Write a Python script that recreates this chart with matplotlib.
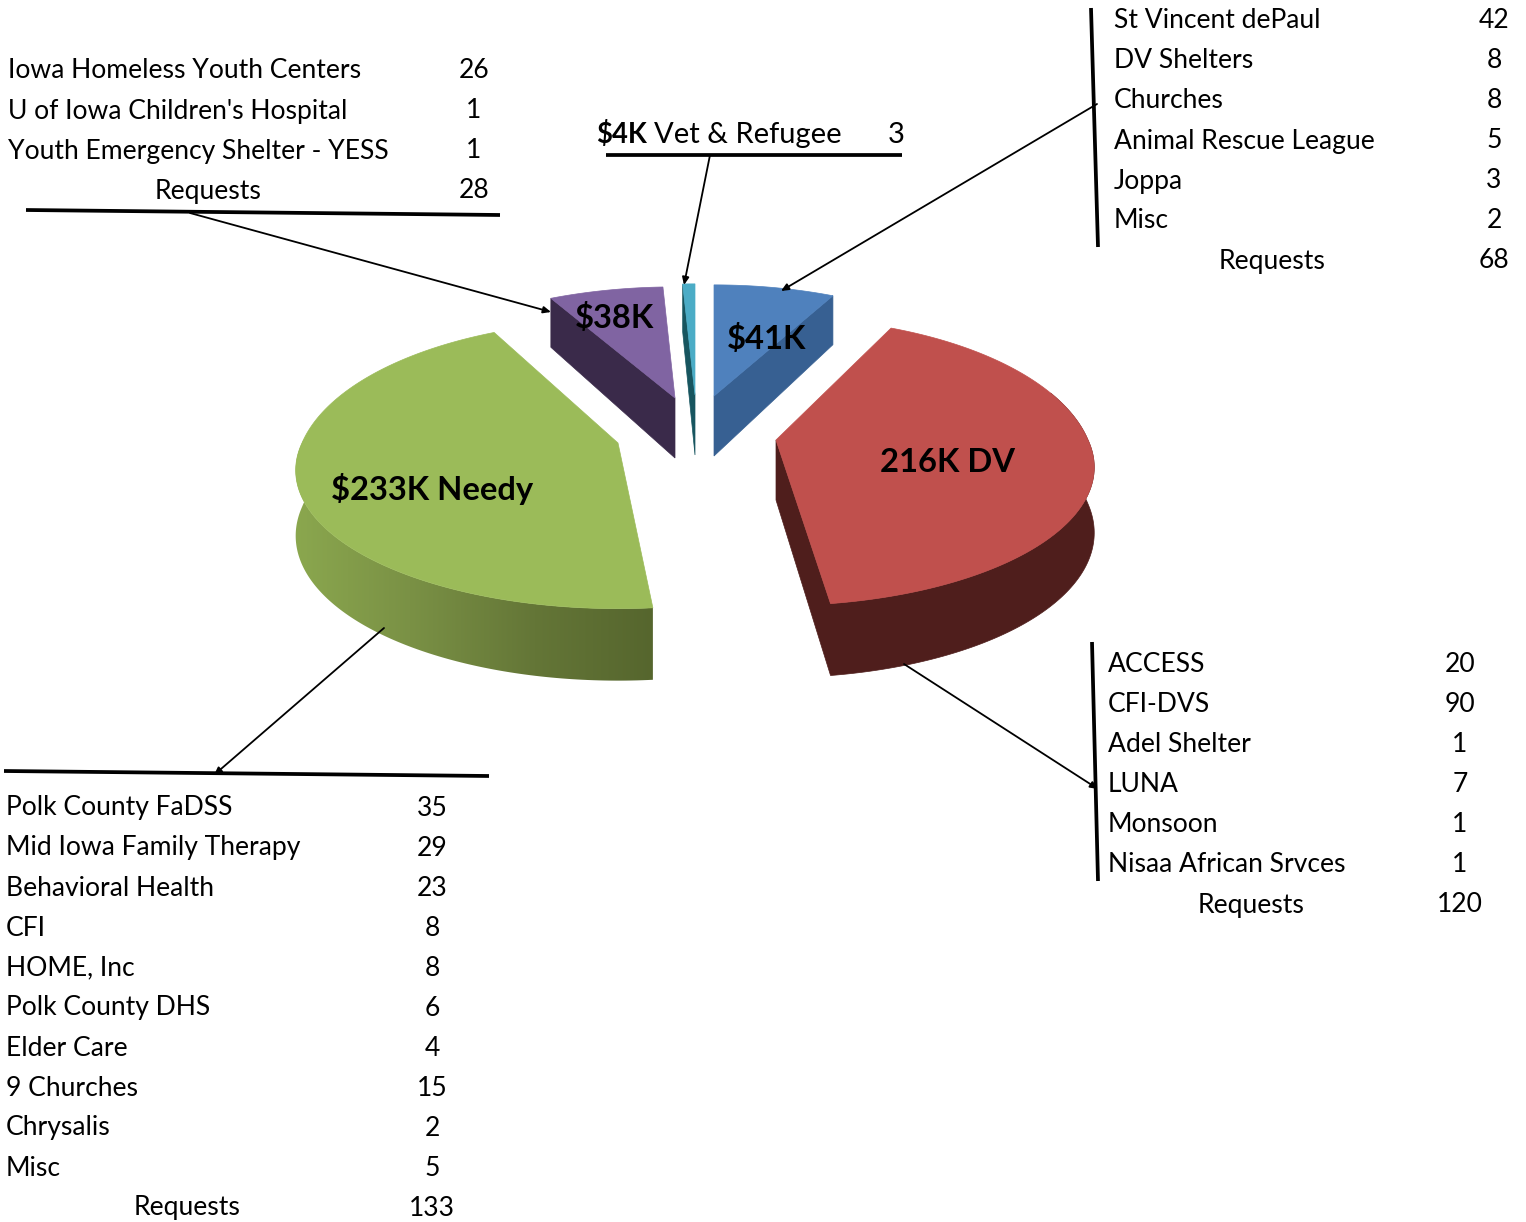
import numpy as np
import matplotlib
matplotlib.use("Agg")
import matplotlib.pyplot as plt
from matplotlib.patches import Polygon
from matplotlib.colors import LinearSegmentedColormap

plt.rcParams['font.family'] = ['Lato', 'DejaVu Sans']

# ---- data ----
slice_names = ["$41K", "216K DV", "$233K Needy", "$38K", "$4K"]
slice_values = [41, 216, 233, 38, 4]

tl_names = ["Iowa Homeless Youth Centers", "U of Iowa Children's Hospital", "Youth Emergency Shelter - YESS"]
tl_values = [26, 1, 1]
tl_total = 28

tr_names = ["St Vincent dePaul", "DV Shelters", "Churches", "Animal Rescue League", "Joppa", "Misc"]
tr_values = [42, 8, 8, 5, 3, 2]
tr_total = 68

br_names = ["ACCESS", "CFI-DVS", "Adel Shelter", "LUNA", "Monsoon", "Nisaa African Srvces"]
br_values = [20, 90, 1, 7, 1, 1]
br_total = 120

bl_names = ["Polk County FaDSS", "Mid Iowa Family Therapy", "Behavioral Health", "CFI", "HOME, Inc",
            "Polk County DHS", "Elder Care", "9 Churches", "Chrysalis", "Misc"]
bl_values = [35, 29, 23, 8, 8, 6, 4, 15, 2, 5]
bl_total = 133

vet_value = 3

# ---- styling / layout ----
top_colors = ["#4F81BD", "#C0504D", "#9BBB59", "#8064A2", "#4BACC6"]
side_colors = ["#376092", "#4F1E1C", None, "#3A2A4A", "#17555F"]
apex = [(714, 396), (776, 440), (618, 443), (675, 398), (695, 395)]
rotation = [0, -2, 1, 0, 0]
radius_x = [300, 312, 316, 306, 312]
back_stretch = [1, 1.1, 1.1, 1, 1]
RY, PERSP = 133, 0.197
W, H = 1526, 1222
FS = 19.1
FS_BOLD = 23.6
FS_VET = 21
FS_VET_BOLD = 19.8
TEXT_DY = 2

fig = plt.figure(figsize=(W / 100, H / 100), dpi=100)
ax = fig.add_axes([0, 0, 1, 1])
ax.set_xlim(0, W)
ax.set_ylim(H, 0)
ax.axis("off")


def project(theta, ap, rx, stretch):
    t = np.radians(theta)
    X, Y = np.sin(t), np.cos(t)
    w = 1 + PERSP * Y
    sy = np.where(Y > 0, stretch, 1.0)
    return np.column_stack([ap[0] + rx * X / w, ap[1] - RY * sy * Y / w]), 64 - 8 * Y


shares = np.array(slice_values) / np.sum(slice_values) * 360
ends = np.cumsum(shares)
starts = ends - shares

for i in range(len(slice_values)):
    a0, a1 = starts[i] + rotation[i], ends[i] + rotation[i]
    ap = apex[i]
    rx, st = radius_x[i], back_stretch[i]
    arc, _ = project(np.linspace(a0, a1, 160), ap, rx, st)
    # side walls
    if i == 1:   # red: cut face + outer rim
        th = np.linspace(a1, 70, 120)
        rim, d = project(th, ap, rx, st)
        upper = np.vstack([[ap], rim])
        lower = np.vstack([[(ap[0], ap[1] + 60)], rim + np.column_stack([0 * d, d])])
    elif i == 2:  # green: outer rim only, gradient
        th = np.linspace(a0, 300, 160)
        upper, d = project(th, ap, rx, st)
        lower = upper + np.column_stack([0 * d, d])
    else:        # flat cut face on the front edge
        edge_angle = a1 if i == 0 else a0
        p, d = project(np.array([edge_angle]), ap, rx, st)
        upper = np.vstack([[ap], p])
        lower = np.vstack([[(ap[0], ap[1] + 60)], p + [[0, d[0] - 8]]])
    side = np.vstack([upper, lower[::-1]])
    if side_colors[i] is None:
        patch = Polygon(side, closed=True, fc="none", ec="none", zorder=2)
        ax.add_patch(patch)
        cmap = LinearSegmentedColormap.from_list("g", ["#8CA94F", "#7A9145", "#647637", "#55652D"])
        img = ax.imshow(np.linspace(0, 1, 256).reshape(1, -1), cmap=cmap, aspect="auto",
                        extent=(285, 660, 700, 440), zorder=2)
        img.set_clip_path(patch)
    else:
        ax.add_patch(Polygon(side, closed=True, fc=side_colors[i], ec=side_colors[i], lw=0.5, zorder=2))
    top = np.vstack([[ap], arc])
    ax.add_patch(Polygon(top, closed=True, fc=top_colors[i], ec=top_colors[i], lw=0.5, zorder=3))
ax.set_xlim(0, W)
ax.set_ylim(H, 0)

# slice labels
lab_pos = [(767, 338), (947, 461), (432, 488), (614, 317)]
for name, (x, y) in zip(slice_names[:4], lab_pos):
    ax.text(x, y + 1, name, ha="center", va="center", fontsize=FS_BOLD, fontweight="bold", color="black", zorder=6)


def table(names, values, total, xl, xv, xr, y0, dy=40):
    for k, (n, v) in enumerate(zip(names, values)):
        y = y0 + k * dy + TEXT_DY
        ax.text(xl, y, n, ha="left", va="center", fontsize=FS, color="black", zorder=6)
        ax.text(xv, y, str(v), ha="center", va="center", fontsize=FS, color="black", zorder=6)
    y = y0 + len(names) * dy + TEXT_DY
    ax.text(xr, y, "Requests", ha="center", va="center", fontsize=FS, color="black", zorder=6)
    ax.text(xv, y, str(total), ha="center", va="center", fontsize=FS, color="black", zorder=6)


table(tl_names, tl_values, tl_total, 8, 474, 208, 69)
table(tr_names, tr_values, tr_total, 1114, 1494, 1272, 19)
table(br_names, br_values, br_total, 1108, 1460, 1251, 663)
table(bl_names, bl_values, bl_total, 6, 432, 187, 806)

# vet & refugee line
ax.text(596, 135, slice_names[4], ha="left", va="center", fontsize=FS_VET_BOLD, fontweight="bold", zorder=6)
ax.text(654, 135, "Vet & Refugee", ha="left", va="center", fontsize=FS_VET, zorder=6)
ax.text(896, 135, str(vet_value), ha="center", va="center", fontsize=FS_VET, zorder=6)

# heavy rules
rules = [((26, 210), (500, 215)), ((606, 155), (902, 155)), ((1091, 8), (1098, 247)),
         ((1092, 642), (1098, 881)), ((4, 771), (489, 776))]
for (x0, y0), (x1, y1) in rules:
    ax.plot([x0, x1], [y0, y1], color="black", lw=2.7, solid_capstyle="butt", zorder=5)

# leader arrows
arrows = [((190, 213), (551, 312)), ((710, 155), (684, 285)), ((1097, 104), (781, 291)),
          ((904, 664), (1098, 789)), ((384, 628), (214, 775))]
for s, e in arrows:
    ax.annotate("", xy=e, xytext=s, zorder=7,
                arrowprops=dict(arrowstyle="-|>,head_length=0.45,head_width=0.2", color="black", lw=1.3,
                                shrinkA=0, shrinkB=0))

fig.savefig("out.png", dpi=100, facecolor="white")
